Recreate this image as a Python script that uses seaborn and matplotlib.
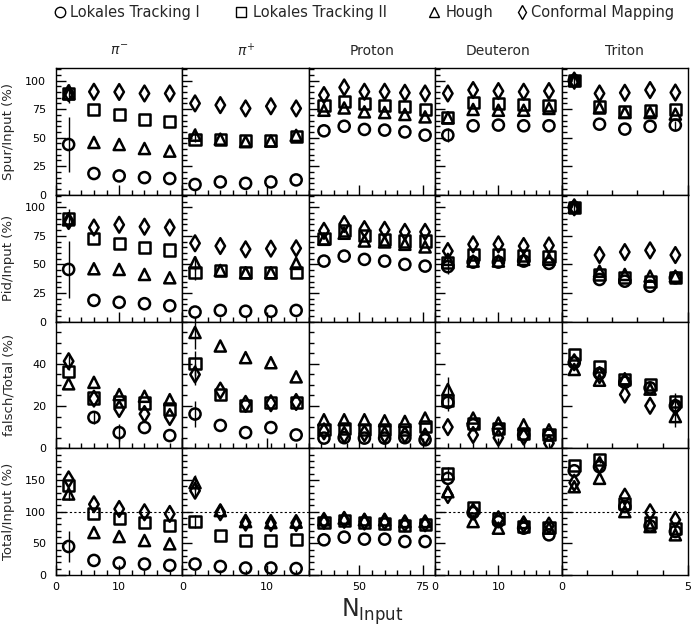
import numpy as np
import pandas as pd
import matplotlib
matplotlib.use("Agg")
import matplotlib.pyplot as plt
import seaborn as sns
from matplotlib.ticker import MultipleLocator
from matplotlib.lines import Line2D

# ---------------- data ----------------
METHODS = ["Lokales Tracking I", "Lokales Tracking II", "Hough", "Conformal Mapping"]
PARTICLES = [r"$\pi^{-}$", r"$\pi^{+}$", "Proton", "Deuteron", "Triton"]
ROW_LABELS = ["Spur/Input (%)", "Pid/Input (%)", "falsch/Total (%)", "Total/Input (%)"]

X_PIM = [2, 6, 10, 14, 18]
X_PIP = [1.5, 4.5, 7.5, 10.5, 13.5]
X_PROTON = [36, 44, 52, 60, 68, 76]
X_DEUTERON = [2, 6, 10, 14, 18]
X_TRITON = [0.5, 1.5, 2.5, 3.5, 4.5]

nan = np.nan
# each list: [pi-, pi+, proton, deuteron, triton]
SPUR_LT1 = [[44, 18.6, 16.5, 15, 14.2], [9, 11.2, 10, 11.2, 13],
            [56, 60, 57.2, 56.6, 55, 52.2], [52.2, 60.4, 61, 60.4, 60.4], [100, 61.8, 57.5, 60, 61]]
SPUR_LT2 = [[88.7, 75, 70.6, 66.2, 64.5], [48.7, 48.7, 47.8, 47.8, 50.7],
            [78.5, 82, 80, 78.5, 77, 74.7], [67.4, 80.5, 80, 79, 78.5], [100, 77, 72.6, 73.5, 74.7]]
SPUR_HOUGH = [[88.5, 45.8, 44, 40.5, 38.2], [52.2, 48.7, 46.5, 47, 52],
              [74, 76, 72.6, 72, 70.3, 68.2], [67.4, 74.7, 74, 74, 75.6], [100, 76, 72, 72, 70.6]]
SPUR_CM = [[89, 90.2, 90, 88.7, 88.7], [80, 78.5, 75.6, 77.5, 75.6],
           [87.3, 94, 90.2, 90.2, 89.3, 88.7], [88.7, 91.7, 90.8, 90.2, 90.8], [100, 88.7, 89.3, 91.7, 89.5]]

PID_LT1 = [[45.6, 18.5, 16.8, 15.6, 13.8], [8.3, 9.7, 9, 9, 9.7],
           [52.9, 57.3, 54.4, 52.9, 50, 48.5], [48, 52, 52, 52.9, 50.9], [100, 36.8, 35.3, 30.9, 38.3]]
PID_LT2 = [[90.3, 73, 68.5, 64.7, 62.6], [42.7, 44.7, 42.7, 42.7, 42.7],
           [73, 79.4, 75, 72, 70.5, 70.5], [51.5, 58.8, 58.8, 57.9, 57.3], [100, 41.2, 38.3, 35.3, 38.3]]
PID_HOUGH = [[89, 46.2, 45.6, 41.2, 38.3], [51.5, 44.7, 42.7, 42.7, 50.9],
             [72, 77.3, 70.5, 69.7, 67.6, 65.3], [54.4, 52.9, 52.9, 54.4, 54.4], [100, 44, 41.2, 39.7, 39.7]]
PID_CM = [[88, 82.3, 84.7, 83, 82.3], [68.5, 66.1, 63.2, 63.8, 64.1],
          [79.4, 85.3, 80.9, 80.3, 78.5, 78.5], [61.7, 67.6, 67.6, 66.1, 66.6], [100, 58.2, 60.8, 62.3, 58.2]]

FALSCH_LT1 = [[nan, 14.6, 7.4, 9.8, 6], [16.2, 10.8, 7.4, 9.8, 6.3],
              [4.8, 5, 4.8, 4.8, 5, 4], [21.7, 11.1, 8.7, 6.3, 6.3], [40.5, 35.4, 31.2, 28.6, 20.1]]
FALSCH_LT2 = [[36.5, 23.8, 22.2, 21.4, 18.6], [40, 25.4, 20.1, 21.7, 21.7],
              [8.7, 9.5, 8.7, 8.7, 8.7, 10.4], [22.6, 11.9, 9.5, 7, 6.6], [44.4, 38.9, 32.6, 30.1, 22.2]]
FALSCH_HOUGH = [[30.5, 31.2, 25.4, 24.6, 23], [54.8, 48.4, 42.9, 40.5, 33.8],
                [13.5, 13.5, 13.5, 13, 12.7, 14.3], [27.8, 14.3, 11.9, 11.1, 8.7], [37.3, 32.2, 32.9, 28, 15]]
FALSCH_CM = [[41.2, 23.5, 18.6, 16.2, 14.8], [34.9, 27.3, 21, 21.3, 21.9],
             [8, 6.3, 7, 6.3, 6.3, 5.5], [10, 6.3, 5, 5.5, 2.4], [40.7, 34.6, 25.4, 20.1, 19.5]]

TOTAL_LT1 = [[45, 23, 18.9, 17.3, 15.1], [17.3, 13.5, 11, 11, 10.2],
             [55.5, 59.7, 56.6, 56.6, 52.8, 52.8], [152.5, 98.4, 84.3, 73.9, 63.4], [164.5, 170.8, 107.9, 77.5, 68.6]]
TOTAL_LT2 = [[140.9, 96.4, 88.5, 82.7, 77.5], [84.3, 62.3, 53.9, 53.9, 55.5],
             [82.7, 85.4, 82.7, 81.6, 78, 79.1], [160.4, 106.9, 89.6, 76.4, 75.4], [172.3, 182.4, 113.2, 82.7, 73.9]]
TOTAL_HOUGH = [[127.8, 67, 60.7, 54.4, 49.2], [145.6, 101.6, 84.3, 82.7, 83.4],
               [87, 89.6, 87, 87, 84.3, 84.3], [131.4, 84.3, 73.9, 82.7, 73.9], [139.3, 152.5, 100, 76.4, 63.4]]
TOTAL_CM = [[150.9, 111.6, 104.2, 99, 96.4], [133, 99, 82.7, 82, 82],
            [85.4, 87, 84.3, 84.3, 81.6, 81.6], [126.2, 100, 88, 80, 78], [145.6, 173.4, 123.6, 99, 87]]

# visible error bars: (row, column, method, point index, half-length)
ERRORS = [
    (0, 0, 0, 0, 24), (0, 0, 1, 0, 8), (0, 1, 2, 0, 6), (0, 3, 0, 0, 6), (0, 4, 1, 0, 7), (0, 4, 0, 4, 4),
    (1, 0, 0, 0, 25), (1, 0, 1, 0, 8), (1, 1, 1, 0, 6), (1, 1, 2, 0, 6), (1, 3, 0, 0, 6), (1, 4, 1, 0, 7),
    (2, 0, 3, 0, 4), (2, 0, 0, 1, 3), (2, 0, 0, 2, 4), (2, 1, 2, 0, 8), (2, 1, 1, 0, 6), (2, 1, 3, 0, 5),
    (2, 1, 0, 0, 6), (2, 3, 2, 0, 6), (2, 3, 0, 0, 4), (2, 4, 2, 4, 5), (2, 4, 1, 4, 4),
    (3, 0, 0, 0, 24), (3, 0, 2, 0, 10), (3, 1, 2, 0, 12), (3, 1, 3, 0, 10), (3, 1, 1, 0, 10),
    (3, 3, 1, 0, 10), (3, 4, 1, 1, 6),
]

# ---------------- assemble ----------------
X_COLS = [X_PIM, X_PIP, X_PROTON, X_DEUTERON, X_TRITON]
ROWS = [
    [SPUR_LT1, SPUR_LT2, SPUR_HOUGH, SPUR_CM],
    [PID_LT1, PID_LT2, PID_HOUGH, PID_CM],
    [FALSCH_LT1, FALSCH_LT2, FALSCH_HOUGH, FALSCH_CM],
    [TOTAL_LT1, TOTAL_LT2, TOTAL_HOUGH, TOTAL_CM],
]
recs = []
for r, series in enumerate(ROWS):
    for m, vals in enumerate(series):
        for c, xs in enumerate(X_COLS):
            for i, (xv, yv) in enumerate(zip(xs, vals[c])):
                recs.append(dict(row=r, col=c, method=METHODS[m], mi=m, idx=i, x=xv, y=yv, err=0.0))
df = pd.DataFrame(recs)
for (r, c, m, i, e) in ERRORS:
    df.loc[(df.row == r) & (df.col == c) & (df.mi == m) & (df.idx == i), "err"] = e

# ---------------- style ----------------
sns.set_theme(style="white", rc={"axes.edgecolor": "black", "axes.linewidth": 1.0,
                                 "xtick.color": "black", "ytick.color": "black"})
plt.rcParams["font.family"] = ["DejaVu Sans"]
plt.rcParams["mathtext.fontset"] = "dejavusans"

MARKERS = {METHODS[0]: "o", METHODS[1]: "s", METHODS[2]: "^", METHODS[3]: "d"}
XLIMS = [(0, 20), (0, 15), (30, 80), (0, 20), (0, 5)]
XMAJOR = [[0, 10, 20], [0, 10], [50, 75], [0, 10, 20], [0, 5]]
XLABELS = [["0", "10", ""], ["0", "10"], ["50", "75"], ["0", "10", ""], ["0", "5"]]
XMINOR = [2, 1.5, 5, 2, 1]
YLIMS = [(0, 111), (0, 111), (0, 60), (0, 200)]
YMAJOR = [[0, 25, 50, 75, 100], [0, 25, 50, 75, 100], [0, 20, 40], [0, 50, 100, 150]]
YMINOR = [5, 5, 5, 10]

W, H = 692, 634
fig = plt.figure(figsize=(W / 100, H / 100), dpi=100)
L, R, T, B = 56, 688, 68, 575
gs = fig.add_gridspec(4, 5, left=L / W, right=R / W, top=1 - T / H, bottom=1 - B / H,
                      wspace=0, hspace=0)

for r in range(4):
    for c in range(5):
        ax = fig.add_subplot(gs[r, c])
        sub = df[(df.row == r) & (df.col == c)].dropna(subset=["y"])
        e = sub[sub.err > 0]
        if len(e):
            ax.errorbar(e.x, e.y, yerr=e.err, fmt="none", ecolor="black", elinewidth=1.0, capsize=0)
        sns.scatterplot(data=sub, x="x", y="y", style="method", style_order=METHODS,
                        markers=MARKERS, s=64, facecolor="none", edgecolor="black",
                        linewidth=1.8, legend=False, ax=ax, zorder=3)
        if r == 3 and c != 2:
            ax.axhline(100, color="black", lw=0.8, ls=(0, (2, 2)), zorder=1)
        ax.set_xlim(*XLIMS[c])
        ax.set_ylim(*YLIMS[r])
        ax.set_xlabel("")
        ax.set_ylabel("")
        ax.set_xticks(XMAJOR[c])
        ax.xaxis.set_minor_locator(MultipleLocator(XMINOR[c]))
        ax.set_yticks(YMAJOR[r])
        ax.yaxis.set_minor_locator(MultipleLocator(YMINOR[r]))
        ax.tick_params(which="both", direction="in", bottom=True, left=True, top=False, right=False,
                       width=1.0, labelsize=8)
        ax.tick_params(which="major", length=7)
        ax.tick_params(which="minor", length=3.5)
        ax.tick_params(axis="y", pad=7)
        ax.tick_params(axis="x", pad=5)
        if r == 3:
            ax.set_xticklabels(XLABELS[c])
        else:
            ax.tick_params(labelbottom=False)
        if c != 0:
            ax.tick_params(labelleft=False)
        for s in ax.spines.values():
            s.set_color("black")
            s.set_linewidth(1.0)

# column titles
col_w = (R - L) / 5
for c, name in enumerate(PARTICLES):
    fig.text((L + col_w * (c + 0.5)) / W, 1 - 51 / H, name, ha="center", va="center", fontsize=10)

# row labels
row_h = (B - T) / 4
for r, name in enumerate(ROW_LABELS):
    fig.text(9 / W, 1 - (T + row_h * (r + 0.5)) / H, name, rotation=90,
             ha="center", va="center", fontsize=9.5)

# x axis label
fig.text(372 / W, 1 - 612 / H, r"$\mathregular{N_{Input}}$", ha="center", va="center", fontsize=17)

# legend
LEG_MARK_X = [60, 241, 434, 522]
LEG_TEXT_X = [70, 253, 446, 531]
for m, name in enumerate(METHODS):
    fig.add_artist(Line2D([LEG_MARK_X[m] / W], [1 - 12 / H], transform=fig.transFigure,
                          marker=MARKERS[name], ms=7.5, mfc="none", mec="black", mew=1.0, ls="none"))
    fig.text(LEG_TEXT_X[m] / W, 1 - 12 / H, name, ha="left", va="center", fontsize=10.5)

fig.savefig("out.png", dpi=100, facecolor="white")
